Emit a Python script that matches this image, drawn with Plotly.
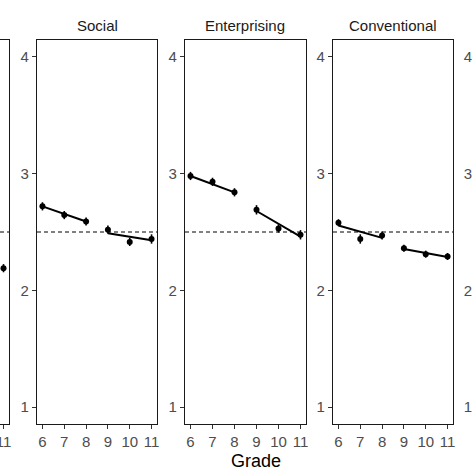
import plotly.graph_objects as go

grades = [6, 7, 8, 9, 10, 11]
panels = ["Social", "Enterprising", "Conventional"]

social = [2.72, 2.645, 2.59, 2.52, 2.415, 2.44]
enterprising = [2.98, 2.93, 2.84, 2.69, 2.53, 2.476]
conventional = [2.58, 2.44, 2.47, 2.36, 2.31, 2.29]
social_err = [0.035, 0.035, 0.035, 0.035, 0.035, 0.04]
enterprising_err = [0.035, 0.035, 0.035, 0.04, 0.035, 0.04]
conventional_err = [0.03, 0.04, 0.035, 0.03, 0.03, 0.03]

# fitted segment end values (grades 6-8 and 9-11)
fit_grades = [6, 8, None, 9, 11]
social_fit = [2.72, 2.59, None, 2.49, 2.43]
enterprising_fit = [2.98, 2.84, None, 2.68, 2.46]
conventional_fit = [2.555, 2.45, None, 2.355, 2.285]

# partially visible panel on the left (Artistic)
artistic_grades = [11]
artistic = [2.19]
artistic_err = [0.035]

reference_level = 2.5
y_ticks = [1, 2, 3, 4]

W = 474
def px(v):
    return v / W

y_dom = [1 - px(424), 1 - px(40)]
x_doms = [[px(37), px(157)], [px(185), px(306)], [px(333), px(453)]]

fig = go.Figure()
TICKFONT = dict(family="Liberation Sans, Arial, sans-serif", size=15, color="#4d4d4d")
LINE = "#1a1a1a"
DASH = dict(color="black", width=1, dash="4px,3px")
MARKER = dict(color="black", size=6)

series = [(social, social_err, social_fit), (enterprising, enterprising_err, enterprising_fit),
          (conventional, conventional_err, conventional_fit)]

for i, (vals, errs, fit) in enumerate(series):
    k = i + 2
    xa, ya = f"x{k}", f"y{k}"
    fig.add_trace(go.Scatter(x=fit_grades, y=fit, mode="lines", xaxis=xa, yaxis=ya,
                             line=dict(color="black", width=2), showlegend=False))
    fig.add_trace(go.Scatter(x=grades, y=vals, mode="markers", xaxis=xa, yaxis=ya,
                             marker=MARKER,
                             error_y=dict(type="data", array=errs, width=0, thickness=1.6, color="black"),
                             showlegend=False))
    fig.add_shape(type="line", xref=f"x{k} domain", yref=ya, x0=0, x1=1,
                  y0=reference_level, y1=reference_level, line=DASH)
    fig.update_layout(**{
        f"xaxis{k}": dict(domain=x_doms[i], range=[5.75, 11.25], anchor=ya,
                          tickvals=grades, ticks="outside", ticklen=4, tickcolor="#333",
                          showline=True, mirror=True, linecolor=LINE, linewidth=1.3,
                          showgrid=False, zeroline=False, tickfont=TICKFONT, automargin=False),
        f"yaxis{k}": dict(domain=y_dom, range=[0.855, 4.145], anchor=xa,
                          tickvals=y_ticks, ticks="outside", ticklen=4, tickcolor="#333",
                          showline=True, mirror=True, linecolor=LINE, linewidth=1.3,
                          showgrid=False, zeroline=False, tickfont=TICKFONT, automargin=False),
    })
    fig.add_annotation(text=panels[i], xref="paper", yref="paper",
                       x=sum(x_doms[i]) / 2, y=1 - px(25), showarrow=False,
                       xanchor="center", yanchor="middle",
                       font=dict(family="Liberation Sans, Arial, sans-serif", size=15, color="#1a1a1a"))

# left partial panel
fig.add_trace(go.Scatter(x=artistic_grades, y=artistic, mode="markers", xaxis="x", yaxis="y",
                         marker=MARKER,
                         error_y=dict(type="data", array=artistic_err, width=0, thickness=1.6, color="black"),
                         showlegend=False, cliponaxis=False))
fig.add_shape(type="line", xref="x domain", yref="y", x0=0, x1=1,
              y0=reference_level, y1=reference_level, line=DASH)
fig.update_layout(
    xaxis=dict(domain=[0, px(9)], range=[10.84, 11.25], anchor="y",
               tickvals=grades, ticks="outside", ticklen=4, tickcolor="#333",
               showline=True, mirror=True, linecolor=LINE, linewidth=1.3,
               showgrid=False, zeroline=False, tickfont=TICKFONT,
               ticklabeloverflow="allow", automargin=False),
    yaxis=dict(domain=y_dom, range=[0.855, 4.145], anchor="x", side="right",
               showticklabels=False, ticks="", showline=True, mirror=False,
               linecolor=LINE, linewidth=1.3, showgrid=False, zeroline=False, automargin=False),
)

# right partial panel: only its y tick labels are visible
fig.add_trace(go.Scatter(x=[None], y=[None], xaxis="x4", yaxis="y5", showlegend=False))
fig.update_layout(
    yaxis5=dict(overlaying="y4", anchor="free", position=1.0, side="left",
                range=[0.855, 4.145], tickvals=y_ticks, ticks="", ticklabelstandoff=2,
                showline=False, showgrid=False, zeroline=False, tickfont=TICKFONT,
                automargin=False, ticklabeloverflow="allow"),
)

fig.add_annotation(text="Grade", xref="paper", yref="paper", x=px(256), y=1 - px(461),
                   showarrow=False, xanchor="center", yanchor="middle",
                   font=dict(family="Liberation Sans, Arial, sans-serif", size=18, color="black"))

fig.update_layout(width=474, height=474, margin=dict(l=0, r=0, t=0, b=0),
                  plot_bgcolor="white", paper_bgcolor="white")
fig.write_html("out.html", config={"displayModeBar": False},
               post_script="document.body.style.margin='0';document.body.style.padding='0';")
